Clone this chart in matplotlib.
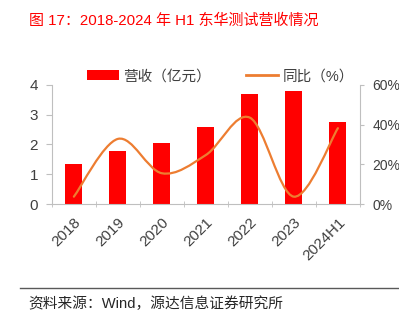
import matplotlib
matplotlib.use('Agg')
import matplotlib.pyplot as plt
import matplotlib.transforms as mtransforms
from matplotlib.path import Path
from matplotlib.patches import PathPatch
from matplotlib.lines import Line2D
from matplotlib.patches import Patch
from matplotlib.ticker import FuncFormatter

plt.rcParams['font.family'] = ['Liberation Sans', 'Noto Sans CJK SC', 'DejaVu Sans']

years = ['2018', '2019', '2020', '2021', '2022', '2023', '2024H1']
revenue = [1.34, 1.79, 2.05, 2.58, 3.69, 3.79, 2.77]      # 营收（亿元）
growth = [0.037, 0.328, 0.155, 0.247, 0.435, 0.037, 0.382]  # 同比

red = '#FF0000'
orange = '#ED7D31'
grey = '#404040'
spine_c = '#BFBFBF'

fig = plt.figure(figsize=(3.99, 3.11), dpi=100)
ax = fig.add_axes([0.130, 0.344, 0.772, 0.383])
ax2 = ax.twinx()

x = list(range(len(years)))
ax.bar(x, revenue, width=0.39, color=red, zorder=2)
ax.set_xlim(-0.5, len(years) - 0.5)
ax.set_ylim(0, 4)
ax.set_yticks([0, 1, 2, 3, 4])
ax2.set_ylim(0, 0.6)
ax2.set_yticks([0, 0.2, 0.4, 0.6])
ax2.yaxis.set_major_formatter(FuncFormatter(lambda v, p: '%d%%' % round(v * 100)))

# smoothed line like excel (catmull-rom -> bezier)
pts = list(zip(x, growth))
verts = [pts[0]]
codes = [Path.MOVETO]
n = len(pts)
for i in range(n - 1):
    p0 = pts[i - 1] if i > 0 else pts[i]
    p1 = pts[i]
    p2 = pts[i + 1]
    p3 = pts[i + 2] if i + 2 < n else pts[i + 1]
    c1 = (p1[0] + (p2[0] - p0[0]) / 6.0, p1[1] + (p2[1] - p0[1]) / 6.0)
    c2 = (p2[0] - (p3[0] - p1[0]) / 6.0, p2[1] - (p3[1] - p1[1]) / 6.0)
    verts += [c1, c2, p2]
    codes += [Path.CURVE4] * 3
ax2.add_patch(PathPatch(Path(verts, codes), facecolor='none', edgecolor=orange,
                        lw=1.6, capstyle='round', zorder=3))

ax.set_xticks(x)
ax.set_xticklabels(years, rotation=45, ha='right', va='top', rotation_mode='anchor')
shift = mtransforms.ScaledTranslation(4 / 72, 0, fig.dpi_scale_trans)
for lbl in ax.get_xticklabels():
    lbl.set_transform(lbl.get_transform() + shift)
ax.set_xticks([i + 0.5 for i in range(-1, len(years))], minor=True)
ax.tick_params(axis='x', which='major', length=0, pad=8, labelsize=11, labelcolor=grey)
ax.tick_params(axis='x', which='minor', length=4, direction='inout', color=spine_c)
ax.tick_params(axis='y', length=4, color=spine_c, labelsize=11, labelcolor=grey, pad=6)
ax2.tick_params(axis='y', length=3, color=spine_c, labelsize=10, labelcolor=grey, pad=6)

for a in (ax, ax2):
    a.spines['top'].set_visible(False)
    for s in ('left', 'right', 'bottom'):
        a.spines[s].set_color(spine_c)
ax.spines['right'].set_visible(False)
ax2.spines['left'].set_visible(False)
ax2.spines['bottom'].set_visible(False)

handles = [Patch(facecolor=red, edgecolor='none'),
           Line2D([0], [0], color=orange, lw=2)]
fig.legend(handles, ['营收（亿元）', '同比（%）'], ncol=2, loc='center',
           bbox_to_anchor=(0.552, 0.755), frameon=False, fontsize=10.5,
           handlelength=2.2, handleheight=0.6, columnspacing=2.4, handletextpad=0.3,
           labelcolor=grey)

fig.text(0.072, 0.933, '图 17：2018-2024 年 H1 东华测试营收情况', color=red,
         fontsize=10.8, ha='left', va='center')
fig.add_artist(Line2D([0.05, 1.0], [0.074, 0.074], color='#595959', lw=1))
fig.text(0.072, 0.022, '资料来源：Wind，源达信息证券研究所', color='#262626',
         fontsize=10.6, ha='left', va='center')

fig.savefig('out.png', dpi=100)
